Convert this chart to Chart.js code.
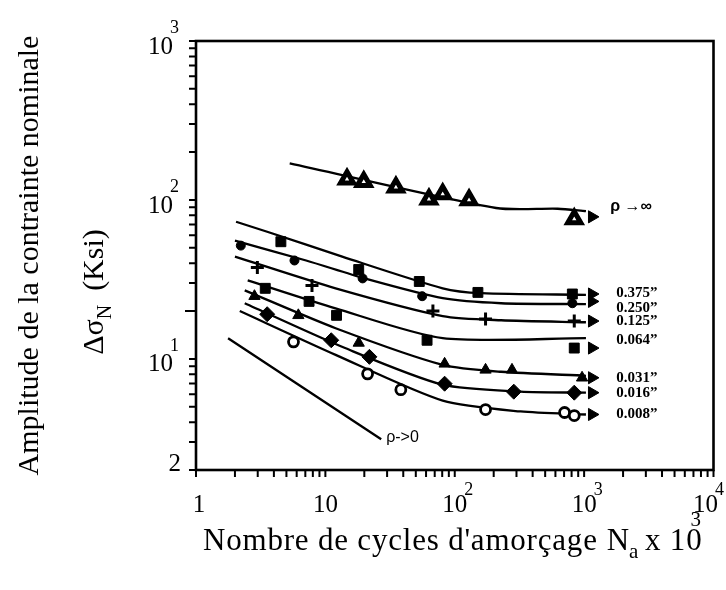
<!DOCTYPE html>
<html>
<head>
<meta charset="utf-8">
<script src="https://cdn.jsdelivr.net/npm/chart.js@4.4.1/dist/chart.umd.min.js"></script>
<style>
  html, body { margin: 0; padding: 0; background: #fff; }
</style>
</head>
<body>
<canvas id="c" width="726" height="590"></canvas>
<script>
// ── Data ──────────────────────────────────────────────────────────────
// x: N_a (x 10^3 cycles), y: Δσ_N (ksi). Points are [x, y].
const infPts  = [[14.7,135],[19.8,130],[35.1,120],[63.2,101],[80.7,109],[129,100],[839,76]];
const infLine = [[5.3,170],[209,89],[625,88],[1033,85]];

const r375Pts  = [[4.53,54.6],[18.1,36.5],[53.2,30.7],[151,26.2],[811,25.6]];
const r375Line = [[2.04,72.9],[3.55,63.1],[13.5,44.0],[80.7,27.8],[161,25.9],[1033,25.3]];

const r250Pts  = [[2.22,51.6],[5.77,41.6],[19.4,32.1],[56.0,24.8],[811,22.4]];
const r250Line = [[2.0,55.4],[7.1,41.6],[20.1,32.1],[80.7,24.1],[228,22.4],[1033,22.1]];

const r125Pts  = [[2.98,37.6],[7.88,29.0],[67.8,20.0],[173,17.8],[839,17.3]];
const r125Line = [[2.0,44.0],[12.0,27.8],[80.7,18.6],[228,17.5],[1033,17.0]];

const r064Pts  = [[3.43,27.8],[7.48,23.0],[12.2,18.8],[61.1,13.1],[839,11.7]];
const r064Line = [[2.51,31.2],[12.0,20.8],[80.7,13.5],[1033,13.5]];

const r031Pts  = [[2.83,24.8],[6.18,18.8],[18.1,12.6],[83.5,9.31],[173,8.53],[277,8.53],[964,7.61]];
const r031Line = [[2.38,27.0],[12.0,15.6],[80.7,9.17],[228,8.30],[1033,7.83]];

const r016Pts  = [[3.55,19.1],[11.1,13.1],[21.9,10.3],[83.5,6.98],[286,6.22],[839,6.13]];
const r016Line = [[2.38,22.4],[14.2,11.7],[80.7,6.88],[323,6.22],[1033,6.13]];

const r008Pts  = [[5.67,12.8],[21.2,8.05],[38.3,6.40],[173,4.80],[706,4.60],[839,4.40]];
const r008Line = [[2.18,20.0],[12.0,10.6],[80.7,5.46],[323,4.67],[1033,4.47]];

const rho0Line = [[1.77,13.5],[27.0,3.12]];

// arrow heads at the right end of each curve, and the curve names
const arrowX = 1150;
const arrowY = [78.3, 25.6, 23.0, 17.3, 11.7, 7.61, 6.13, 4.47];
const curveNames = ["ρ →∞", "0.375”", "0.250”", "0.125”", "0.064”", "0.031”", "0.016”", "0.008”"];
const nameX = 1770;
const nameY = [90.4, 25.9, 20.8, 17.3, 13.1, 7.61, 6.13, 4.47];
const rho0Name = "ρ->0";
const rho0NameAt = [29.5, 3.2];

// axis tick labels: [base, exponent]
const xTickVals = [1, 10, 100, 1000, 10000];
const xTickText = [["1",""],["10",""],["10","2"],["10","3"],["10","4"]];
const yTickVals = [1000, 100, 10, 2];
const yTickText = [["10","3"],["10","2"],["10","1"],["2",""]];

const xTitle = ["Nombre de cycles d'amorçage", "N", "a", "x 10", "3"];
const yTitle1 = "Amplitude de la contrainte nominale";
const yTitle2 = ["Δσ", "N", "(Ksi)"];

// ── Helpers ───────────────────────────────────────────────────────────
const xy = (arr) => arr.map(([x, y]) => ({ x, y }));
const SERIF = '"Liberation Serif", "Times New Roman", serif';

function lineSet(data) {
  return {
    type: "line", data: xy(data), borderColor: "#000", borderWidth: 2.3,
    pointRadius: 0, fill: false, tension: 0.25, order: 2,
  };
}
function markSet(data, style, r, fill, bw) {
  return {
    type: "scatter", data: xy(data), pointStyle: style, pointRadius: r,
    pointBackgroundColor: fill, pointBorderColor: "#000", pointBorderWidth: bw,
    order: 1,
  };
}

const datasets = [
  lineSet(infLine), lineSet(r375Line), lineSet(r250Line), lineSet(r125Line),
  lineSet(r064Line), lineSet(r031Line), lineSet(r016Line), lineSet(r008Line),
  lineSet(rho0Line),
  markSet(infPts, "triangle", 7.5, "#fff", 5),
  markSet(r375Pts, "rect", 7, "#000", 1),
  markSet(r250Pts, "circle", 4.5, "#000", 1),
  markSet(r125Pts, "cross", 6.5, "#000", 3),
  markSet(r064Pts, "rect", 7, "#000", 1),
  markSet(r031Pts, "triangle", 6.5, "#000", 1),
  markSet(r016Pts, "rectRot", 7.5, "#000", 1),
  markSet(r008Pts, "circle", 5, "#fff", 2.8),
  {
    type: "scatter", data: arrowY.map((y) => ({ x: arrowX, y })),
    pointStyle: "triangle", rotation: 90, pointRadius: 7,
    pointBackgroundColor: "#000", pointBorderColor: "#000", order: 0,
  },
];

// base text with a raised exponent (tick labels like 10²)
function drawPow(ctx, x, y, base, exp, align, rise) {
  ctx.font = "25px " + SERIF;
  const w = ctx.measureText(base).width;
  const left = align === "right" ? x - w : align === "center" ? x - w / 2 : x;
  ctx.textAlign = "left";
  ctx.textBaseline = "middle";
  ctx.fillText(base, left, y);
  if (exp) {
    ctx.font = "18px " + SERIF;
    ctx.fillText(exp, left + w - 3, y - rise);
  }
}

// frame, ticks, tick labels, titles and curve names
const decor = {
  id: "decor",
  afterDatasetsDraw(chart) {
    const { ctx, chartArea: a, scales } = chart;
    const sx = scales.x, sy = scales.y;
    ctx.save();
    ctx.fillStyle = "#000";
    ctx.strokeStyle = "#000";
    ctx.lineWidth = 2.6;
    ctx.strokeRect(a.left, a.top, a.right - a.left, a.bottom - a.top);

    ctx.lineWidth = 2;
    ctx.beginPath();
    for (let k = 0; k < 4; k++) {
      for (let m = 1; m <= 10; m++) {
        const px = sx.getPixelForValue(m * Math.pow(10, k));
        ctx.moveTo(px, a.bottom);
        ctx.lineTo(px, a.bottom + 7);
      }
    }
    for (let k = 0; k < 3; k++) {
      for (let m = 1; m <= 10; m++) {
        const v = m * Math.pow(10, k);
        if (v < 2 || v > 1000) continue;
        const py = sy.getPixelForValue(v);
        ctx.moveTo(a.left, py);
        ctx.lineTo(a.left - (v === 20 ? 11 : 7), py);
      }
    }
    ctx.stroke();

    xTickVals.forEach((v, i) => {
      let px = sx.getPixelForValue(v);
      if (i === 0) px += 3;
      if (i === xTickVals.length - 1) px -= 8;
      drawPow(ctx, px, a.bottom + 35, xTickText[i][0], xTickText[i][1], "center", 15);
    });
    yTickVals.forEach((v, i) => {
      const py = sy.getPixelForValue(v);
      const t = yTickText[i];
      if (t[1]) drawPow(ctx, a.left - 23, py + 6, t[0], t[1], "right", 19);
      else drawPow(ctx, a.left - 15, py - 6, t[0], "", "right", 0);
    });

    // x title
    ctx.textAlign = "left";
    ctx.textBaseline = "alphabetic";
    if ("letterSpacing" in ctx) ctx.letterSpacing = "0.8px";
    let cx = 203;
    const by = a.bottom + 80;
    ctx.font = "31px " + SERIF;
    ctx.fillText(xTitle[0], cx, by);
    cx += ctx.measureText(xTitle[0]).width + 9;
    ctx.fillText(xTitle[1], cx, by);
    cx += ctx.measureText(xTitle[1]).width - 1;
    ctx.font = "21px " + SERIF;
    ctx.fillText(xTitle[2], cx, by + 8);
    cx += ctx.measureText(xTitle[2]).width + 6;
    ctx.font = "31px " + SERIF;
    ctx.fillText(xTitle[3], cx, by);
    cx += ctx.measureText(xTitle[3]).width;
    ctx.font = "21px " + SERIF;
    ctx.fillText(xTitle[4], cx - 12, by - 24);
    if ("letterSpacing" in ctx) ctx.letterSpacing = "0px";

    // y title (rotated)
    ctx.save();
    ctx.translate(30, (a.top + a.bottom) / 2);
    ctx.rotate(-Math.PI / 2);
    ctx.font = "30px " + SERIF;
    ctx.textAlign = "center";
    ctx.textBaseline = "middle";
    ctx.fillText(yTitle1, 0, 0);
    ctx.restore();

    ctx.save();
    ctx.translate(93, 292);
    ctx.rotate(-Math.PI / 2);
    ctx.textAlign = "left";
    ctx.textBaseline = "alphabetic";
    ctx.font = "30px " + SERIF;
    const w0 = ctx.measureText(yTitle2[0]).width;
    ctx.font = "20px " + SERIF;
    const w1 = ctx.measureText(yTitle2[1]).width;
    ctx.font = "30px " + SERIF;
    const w2 = ctx.measureText(yTitle2[2]).width;
    let tx = -(w0 + w1 + 14 + w2) / 2;
    ctx.fillText(yTitle2[0], tx, 10);
    tx += w0;
    ctx.font = "20px " + SERIF;
    ctx.fillText(yTitle2[1], tx, 18);
    tx += w1 + 14;
    ctx.font = "30px " + SERIF;
    ctx.fillText(yTitle2[2], tx, 10);
    ctx.restore();

    // curve names
    ctx.textAlign = "left";
    ctx.textBaseline = "middle";
    curveNames.forEach((n, i) => {
      ctx.font = i === 0 ? 'bold 16px "Liberation Sans", sans-serif' : "bold 15px " + SERIF;
      ctx.fillText(n, sx.getPixelForValue(nameX) - (i === 0 ? 6 : 0), sy.getPixelForValue(nameY[i]));
    });
    ctx.font = '16px "Liberation Sans", sans-serif';
    ctx.fillText(rho0Name, sx.getPixelForValue(rho0NameAt[0]), sy.getPixelForValue(rho0NameAt[1]));
    ctx.restore();
  },
};

new Chart(document.getElementById("c"), {
  data: { datasets },
  options: {
    responsive: false,
    devicePixelRatio: 1,
    animation: false,
    layout: { padding: { left: 188, right: 10, top: 41, bottom: 112 } },
    plugins: { legend: { display: false }, tooltip: { enabled: false } },
    scales: {
      x: {
        type: "logarithmic", min: 1, max: 10000,
        ticks: { display: false }, grid: { display: false }, border: { display: false },
      },
      y: {
        type: "logarithmic", min: 2, max: 1000,
        ticks: { display: false }, grid: { display: false }, border: { display: false },
      },
    },
  },
  plugins: [decor],
});
</script>
</body>
</html>
